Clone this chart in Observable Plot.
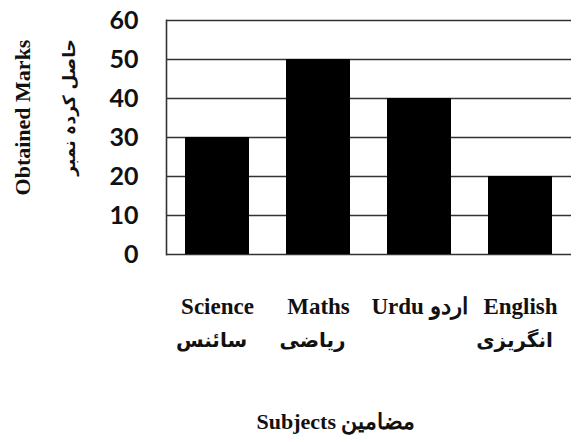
<!DOCTYPE html>
<html><head><meta charset="utf-8">
<script src="https://cdn.jsdelivr.net/npm/d3@7"></script>
<script src="https://cdn.jsdelivr.net/npm/@observablehq/plot@0.6"></script>
<style>body{margin:0;background:#fff}</style>
</head><body><div id="chart"></div>
<script>
const subjects = ["Science", "Maths", "Urdu", "English"];
const marks = [30, 50, 40, 20];
const englishLabels = ["Science", "Maths", "Urdu اردو", "English"];
const urduLabels = ["سائنس", "ریاضی", "", "انگریزی"];
const yTicks = [0, 10, 20, 30, 40, 50, 60];
const yTitle = "Obtained Marks";
const yTitleUrdu = "حاصل کردہ نمبر";
const xTitle = "Subjects مضامین";

const data = subjects.map((s, i) => ({subject: s, marks: marks[i], en: englishLabels[i], ur: urduLabels[i]}));
const serif = "Liberation Serif, Times New Roman, serif";
const urduFont = "DejaVu Sans, Noto Sans, sans-serif";

const chart = Plot.plot({
  width: 577,
  height: 442,
  marginLeft: 166,
  marginRight: 6,
  marginTop: 20,
  marginBottom: 188,
  style: {background: "#fff", color: "#000"},
  x: {domain: subjects, paddingInner: 0.37, paddingOuter: 0.185, axis: null},
  y: {domain: [0, 60], axis: null},
  marks: [
    Plot.gridY(yTicks, {stroke: "#333", strokeOpacity: 1, strokeWidth: 1.6}),
    Plot.barY(data, {x: "subject", y: "marks", fill: "#000"}),
    Plot.frame({anchor: "left", stroke: "#333", strokeWidth: 1.6}),
    Plot.axisY(yTicks, {label: null, tickSize: 0, tickPadding: 28, fontSize: 25, fontWeight: "bold", fontFamily: "Lato", fill: "#111"}),
    Plot.text(data, {x: "subject", text: "en", frameAnchor: "bottom", dy: 59, fontFamily: serif, fontWeight: "bold", fontSize: 23, fill: "#111"}),
    Plot.text(data, {x: "subject", text: "ur", frameAnchor: "bottom", dy: 92, dx: -6, fontFamily: urduFont, fontWeight: "bold", fontSize: 20, fill: "#111"}),
    Plot.text([yTitle], {frameAnchor: "left", textAnchor: "middle", rotate: -90, dx: -144, dy: -20, fontFamily: serif, fontWeight: "bold", fontSize: 22, fill: "#111"}),
    Plot.text([yTitleUrdu], {frameAnchor: "left", textAnchor: "middle", rotate: -90, dx: -97, dy: -30, fontFamily: urduFont, fontWeight: "bold", fontSize: 17, fill: "#111"}),
    Plot.text([xTitle], {frameAnchor: "bottom", dy: 174, dx: -33, fontFamily: serif, fontWeight: "bold", fontSize: 22, fill: "#111"})
  ]
});
document.getElementById("chart").appendChild(chart);
</script>
</body></html>
